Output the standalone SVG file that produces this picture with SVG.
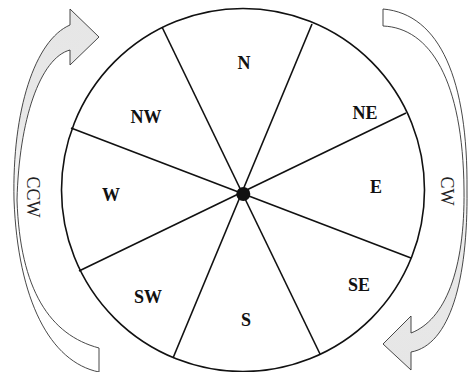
<svg xmlns="http://www.w3.org/2000/svg" width="470" height="372" viewBox="0 0 470 372">
<style>
.rim{fill:none;stroke:#111;stroke-width:1.6}
.spoke{stroke:#111;stroke-width:1.6}
.lbl{font-family:"Liberation Serif",serif;font-weight:bold;font-size:18px;fill:#111;text-anchor:middle}
.dir{font-family:"Liberation Serif",serif;font-size:18px;fill:#222;text-anchor:middle}
.arrow{stroke:#333;stroke-width:0.9;stroke-linejoin:miter}
</style>
<defs>
<linearGradient id="gCCW" x1="0" y1="0" x2="0" y2="1">
<stop offset="0" stop-color="#e6e6e6"/>
<stop offset="0.3" stop-color="#e8e8e8"/>
<stop offset="0.6" stop-color="#ffffff"/>
</linearGradient>
<linearGradient id="gCW" x1="0" y1="0" x2="0" y2="1">
<stop offset="0.4" stop-color="#ffffff"/>
<stop offset="0.7" stop-color="#e8e8e8"/>
<stop offset="1" stop-color="#e6e6e6"/>
</linearGradient>
</defs>
<g id="wheel">
<circle class="rim" cx="243" cy="190" r="181.5"/>
</g>
<g id="connectors">
<line class="spoke" x1="162" y1="27" x2="320" y2="354"/>
<line class="spoke" x1="312" y1="24" x2="173" y2="358"/>
<line class="spoke" x1="71" y1="128" x2="411" y2="258"/>
<line class="spoke" x1="406" y1="113" x2="79" y2="271"/>
</g>
<g id="hub"><circle cx="243.3" cy="194" r="7" fill="#111"/></g>
<g id="N"><text class="lbl" x="244" y="69">N</text></g>
<g id="NE"><text class="lbl" x="365" y="119">NE</text></g>
<g id="E"><text class="lbl" x="376" y="193">E</text></g>
<g id="SE"><text class="lbl" x="359" y="291">SE</text></g>
<g id="S"><text class="lbl" x="246" y="326">S</text></g>
<g id="SW"><text class="lbl" x="148" y="303">SW</text></g>
<g id="W"><text class="lbl" x="111" y="201">W</text></g>
<g id="NW"><text class="lbl" x="146" y="123">NW</text></g>
<g id="ccw-arrow">
<path class="arrow" fill="url(#gCCW)" d="M99,348 L99,372 C50,362 18,300 14,200 C12,110 35,40 70,25 L70,9 L99,37 L70,65 L70,50 C40,58 19,120 17,200 C20,290 50,335 99,348 Z"/>
<text class="dir" transform="translate(33,197) rotate(90)" y="6">CCW</text>
</g>
<g id="cw-arrow">
<path class="arrow" fill="url(#gCW)" d="M383,9 L383,26 C430,28 463,80 464,190 C465,270 445,320 411,333 L411,316 L383,344 L411,370 L411,352 C450,345 468,280 467,190 C468,80 440,14 383,9 Z"/>
<text class="dir" transform="translate(447,191) rotate(90)" y="6">CW</text>
</g>
</svg>
